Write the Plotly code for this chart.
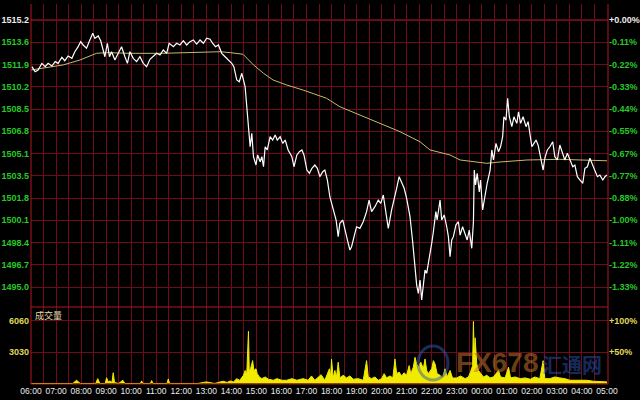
import plotly.graph_objects as go

# ---------------- data (minutes after 06:00) ----------------
PRICE_MIN = [2,10,17,26,34,41,50,58,65,74,81,89,98,105,113,119,125,133,141,148,
             153,161,167,172,177,183,188,193,201,209,217,225,231,237,245,253,261,269,277,285,
             293,301,309,317,325,331,341,349,357,365,373,381,389,397,405,413,421,429,435,442,
             449,457,465,473,481,486,493,499,505,510,513,517,521,525,529,533,539,543,549,553,
             557,561,566,573,579,585,590,597,603,609,616,625,630,637,643,649,654,661,667,673,
             680,686,692,699,704,710,716,724,731,736,740,747,752,758,764,768,774,780,788,796,
             804,810,816,824,832,838,844,851,856,864,870,876,882,888,894,900,908,914,920,924,
             928,932,936,940,944,948,954,960,964,970,973,980,984,990,996,1000,1004,1008,1012,1018,
             1024,1028,1034,1040,1045,1050,1056,1060,1062,1065,1069,1074,1077,1082,1088,1093,1100,1104,1108,1114,
             1120,1125,1130,1133,1138,1142,1146,1152,1157,1164,1168,1173,1179,1186,1191,1195,1200,1205,1210,1215,
             1221,1227,1231,1237,1243,1250,1255,1261,1267,1274,1279,1285,1291,1298,1303,1309,1315,1322,1327,1333,
             1339,1346,1351,1357,1363,1370,1375,1380]
PRICE_VAL = [1511.71,1511.33,1511.46,1511.96,1511.71,1511.96,1511.76,1512.09,1511.96,1512.42,
             1512.16,1512.52,1512.34,1512.84,1513.22,1513.60,1513.35,1513.10,1513.73,1514.23,
             1513.86,1514.03,1513.67,1513.10,1512.46,1513.48,1512.46,1512.84,1512.21,1512.72,
             1513.22,1512.46,1511.96,1512.84,1512.34,1512.09,1512.46,1511.96,1511.71,1512.27,
             1512.46,1512.72,1512.59,1512.97,1512.72,1513.48,1513.22,1513.48,1513.35,1513.67,
             1513.35,1513.60,1513.73,1513.42,1513.73,1513.48,1513.86,1513.78,1513.48,1513.22,
             1513.35,1512.72,1512.46,1512.21,1511.96,1511.71,1510.70,1510.57,1511.21,1510.57,
             1510.19,1508.68,1507.17,1505.65,1506.67,1504.90,1504.27,1505.03,1504.52,1504.90,
             1504.14,1505.65,1505.41,1506.41,1506.16,1506.54,1506.16,1506.41,1505.91,1506.16,
             1505.41,1504.90,1504.14,1505.03,1505.28,1505.41,1505.03,1503.89,1503.64,1504.02,
             1504.27,1504.02,1503.39,1503.76,1503.89,1503.14,1501.87,1500.87,1500.11,1498.85,
             1499.86,1500.11,1499.35,1498.60,1497.84,1498.09,1498.85,1499.60,1499.48,1499.98,
             1500.74,1501.62,1500.74,1501.12,1501.62,1501.37,1502.00,1500.62,1499.48,1500.87,
             1501.62,1502.51,1503.39,1502.89,1502.51,1501.75,1500.36,1498.60,1496.58,1495.19,
             1494.56,1495.57,1494.06,1495.06,1496.33,1496.08,1497.08,1498.35,1499.22,1500.74,
             1500.11,1501.62,1500.11,1500.49,1499.60,1498.85,1497.33,1498.60,1498.85,1499.73,
             1499.98,1498.97,1499.60,1499.10,1498.60,1499.35,1497.97,1499.98,1503.89,1502.76,
             1503.64,1502.23,1503.14,1500.87,1502.00,1502.91,1503.89,1505.41,1504.65,1505.91,
             1505.28,1505.65,1506.41,1507.92,1507.67,1509.32,1507.92,1507.17,1507.92,1507.42,
             1508.30,1507.42,1507.92,1507.17,1507.55,1506.67,1505.65,1505.91,1506.16,1505.78,
             1504.90,1503.89,1504.78,1505.41,1505.65,1506.03,1504.90,1504.65,1505.78,1505.16,
             1504.65,1505.16,1504.65,1504.14,1504.27,1503.39,1503.14,1502.89,1504.02,1504.14,
             1504.78,1504.27,1503.89,1503.39,1503.51,1503.14,1503.39,1503.51]

AVG_MIN = [0,77,117,157,181,237,316,412,453,477,501,508,533,557,580,613,652,708,740,788,
           836,884,908,932,956,1004,1028,1060,1092,1124,1188,1267,1380]
AVG_VAL = [1511.46,1511.84,1512.21,1512.72,1512.77,1512.72,1512.72,1512.80,1512.84,1512.77,
           1512.72,1512.65,1511.84,1511.21,1510.70,1510.32,1509.94,1509.32,1508.68,1508.05,
           1507.42,1506.79,1506.41,1506.03,1505.41,1505.03,1504.65,1504.52,1504.40,1504.50,
           1504.65,1504.70,1504.59]

VOL_MIN = [0,100,109,118,155,160,165,178,181,185,189,194,197,200,210,220,225,262,265,268,
           286,289,292,326,329,332,400,420,440,453,460,470,477,485,493,500,509,513,517,521,
           523,526,531,534,539,542,547,553,561,569,581,589,601,613,625,637,652,664,672,680,
           695,704,715,718,720,724,728,732,736,740,748,756,764,772,784,796,804,808,816,824,
           832,840,846,852,860,867,872,876,882,888,894,900,906,910,916,920,924,928,934,940,
           944,948,952,960,964,968,973,980,986,992,997,1004,1010,1020,1029,1040,1048,1053,1058,1060,
           1062,1064,1068,1072,1077,1084,1092,1100,1108,1120,1125,1136,1144,1149,1160,1172,1184,1196,1207,1219,
           1227,1231,1243,1255,1267,1279,1291,1303,1315,1331,1347,1363,1380]
VOL_VAL = [0,0,310,0,0,470,0,0,560,150,250,100,1040,100,0,310,0,0,250,0,
           0,280,0,0,450,0,0,150,0,160,220,100,250,150,470,300,790,1260,950,5050,
           1100,1420,2210,1260,1420,950,630,470,630,410,310,470,310,310,470,310,470,310,730,310,
           850,310,1420,630,2370,520,1260,630,2050,540,790,540,730,410,470,310,2210,630,470,630,
           310,470,950,540,730,540,2370,950,1100,730,1040,790,1730,950,1580,2530,1890,1580,2050,1420,
           2370,1260,950,1420,2210,1890,950,790,540,1420,630,1260,520,540,730,470,630,1100,1730,6000,
           2370,4420,1890,1260,950,630,790,540,630,1260,630,540,1580,540,630,470,540,410,630,470,
           2210,470,470,630,540,470,310,310,310,310,220,220,150]

PRICE_LABELS = ["1515.2","1513.6","1511.9","1510.2","1508.5","1506.8","1505.1",
                "1503.5","1501.8","1500.1","1498.4","1496.7","1495.0"]
PCT_LABELS = ["+0.00%","-0.11%","-0.22%","-0.33%","-0.44%","-0.55%","-0.67%",
              "-0.77%","-0.88%","-1.00%","-1.11%","-1.22%","-1.33%"]
VOL_TICKS = [6060, 3030]
VOL_LABELS = ["6060", "3030"]
VOL_PCT_LABELS = ["+100%", "+50%"]
TIME_LABELS = ["06:00","07:00","08:00","09:00","10:00","11:00","12:00","13:00","14:00",
               "15:00","16:00","17:00","18:00","19:00","20:00","21:00","22:00","23:00",
               "00:00","01:00","02:00","03:00","04:00","05:00"]

assert len(PRICE_MIN) == len(PRICE_VAL)
assert len(AVG_MIN) == len(AVG_VAL)
assert len(VOL_MIN) == len(VOL_VAL)

# ---------------- scales ----------------
PREV_CLOSE = 1515.24
STEP = 1.6833
price_ticks = [PREV_CLOSE - i * STEP for i in range(len(PRICE_LABELS))]
time_ticks = [60 * i for i in range(len(TIME_LABELS))]

GREEN = "rgb(40,200,40)"
WHITE = "rgb(235,235,235)"
YEL = "rgb(225,215,90)"
GRID = "rgb(110,12,30)"
BORDER = "rgb(180,20,35)"
FONT = "Liberation Sans"

def colored(labels, first_color, rest_color):
    out = []
    for i, t in enumerate(labels):
        c = first_color if i == 0 else rest_color
        out.append(f'<span style="color:{c}">{t}</span>')
    return out

split = 77 / 380.0

fig = go.Figure()
fig.add_trace(go.Scatter(x=AVG_MIN, y=AVG_VAL, mode="lines",
                         line=dict(color="rgb(200,185,105)", width=1),
                         xaxis="x", yaxis="y", hoverinfo="skip"))
fig.add_trace(go.Scatter(x=PRICE_MIN, y=PRICE_VAL, mode="lines",
                         line=dict(color="white", width=1.2),
                         xaxis="x", yaxis="y", hoverinfo="skip"))
fig.add_trace(go.Scatter(x=[None], y=[None], xaxis="x", yaxis="y2", showlegend=False))
fig.add_trace(go.Scatter(x=VOL_MIN, y=VOL_VAL, mode="lines",
                         line=dict(color="rgb(240,235,0)", width=1),
                         fill="tozeroy", fillcolor="rgb(240,235,0)",
                         xaxis="x2", yaxis="y3", hoverinfo="skip"))
fig.add_trace(go.Scatter(x=[None], y=[None], xaxis="x2", yaxis="y4", showlegend=False))

xrange = [0, 1382.4]
yrange = [1493.53, 1516.45]
vrange = [-50, 7400]

common_x = dict(range=xrange, showgrid=True, gridcolor=GRID, gridwidth=1,
                zeroline=False, showline=False, ticks="", tickvals=time_ticks,
                automargin=False, tickangle=0,
                minor=dict(dtick=30, tick0=0, showgrid=True, gridcolor=GRID, gridwidth=1, ticks=""))

yfont_g = dict(family=FONT, size=9, color=GREEN, weight="bold")
yfont_y = dict(family=FONT, size=9, color=YEL, weight="bold")

fig.update_layout(
    width=640, height=400,
    margin=dict(l=31, r=32, t=4, b=16, autoexpand=False),
    paper_bgcolor="black", plot_bgcolor="black",
    showlegend=False,
    xaxis=dict(domain=[0, 1], anchor="y", showticklabels=False, **common_x),
    xaxis2=dict(domain=[0, 1], anchor="y3", matches="x", showticklabels=True,
                ticktext=TIME_LABELS,
                tickfont=dict(family=FONT, size=8.5, color=WHITE), **common_x),
    yaxis=dict(domain=[split, 1], anchor="x", range=yrange, tickvals=price_ticks,
               ticktext=colored(PRICE_LABELS, WHITE, GREEN), tickfont=yfont_g,
               showgrid=True, gridcolor=GRID, gridwidth=1, zeroline=False, ticks="",
               ticklabelstandoff=1, automargin=False),
    yaxis2=dict(overlaying="y", anchor="x", side="right", range=yrange, tickvals=price_ticks,
                ticktext=colored(PCT_LABELS, WHITE, GREEN), tickfont=yfont_g,
                showgrid=False, zeroline=False, ticks="", ticklabelstandoff=0, automargin=False),
    yaxis3=dict(domain=[0, split], anchor="x2", range=vrange, tickvals=VOL_TICKS,
                ticktext=VOL_LABELS, tickfont=yfont_y,
                showgrid=True, gridcolor=GRID, gridwidth=1, zeroline=False, ticks="",
                ticklabelstandoff=1, automargin=False),
    yaxis4=dict(overlaying="y3", anchor="x2", side="right", range=vrange, tickvals=VOL_TICKS,
                ticktext=VOL_PCT_LABELS, tickfont=yfont_y,
                showgrid=False, zeroline=False, ticks="", ticklabelstandoff=0, automargin=False),
)

shapes = []
for xv in (0, 1):
    shapes.append(dict(type="line", xref="paper", yref="paper", x0=xv, x1=xv, y0=0, y1=1,
                       line=dict(color=BORDER, width=1), layer="above"))
for yv in (0, split):
    shapes.append(dict(type="line", xref="paper", yref="paper", x0=0, x1=1, y0=yv, y1=yv,
                       line=dict(color=BORDER, width=1), layer="above"))
shapes.append(dict(type="line", xref="paper", yref="y", x0=0, x1=1, y0=PREV_CLOSE, y1=PREV_CLOSE,
                   line=dict(color=BORDER, width=1), layer="below"))
# watermark globe
shapes.append(dict(type="circle", xref="paper", yref="paper",
                   x0=(418 - 31) / 577, x1=(448 - 31) / 577,
                   y0=(384 - 380) / 380, y1=(384 - 346) / 380,
                   line=dict(color="rgba(50,90,170,0.5)", width=3), layer="above"))
fig.update_layout(shapes=shapes)

fig.add_annotation(text="成交量", xref="paper", yref="paper", x=0.003, y=(384 - 315) / 380,
                   xanchor="left", yanchor="middle", showarrow=False,
                   font=dict(family="Noto Sans CJK SC", size=9, color="rgb(230,220,170)"))
fig.add_annotation(text="<b>FX678</b>", xref="paper", yref="paper",
                   x=(497 - 31) / 577, y=(384 - 362) / 380, xanchor="center", yanchor="middle",
                   showarrow=False,
                   font=dict(family="Liberation Sans", size=28, color="rgba(200,120,40,0.55)"))
fig.add_annotation(text="<b>汇通网</b>", xref="paper", yref="paper",
                   x=(572 - 31) / 577, y=(384 - 364) / 380, xanchor="center", yanchor="middle",
                   showarrow=False,
                   font=dict(family="Noto Sans CJK SC", size=20, color="rgba(40,80,170,0.55)"))

fig.write_html("out.html", config={"displayModeBar": False},
               post_script="document.body.style.margin='0';")
